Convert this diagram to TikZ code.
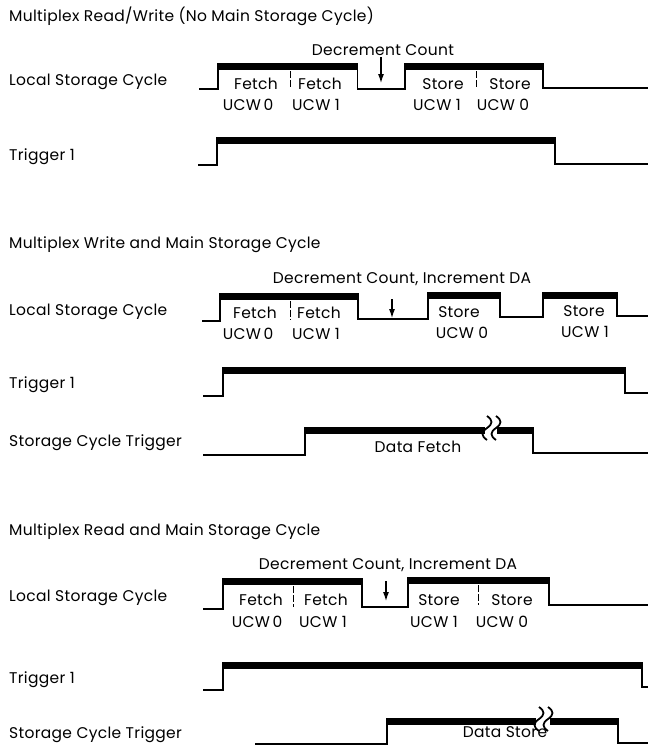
\documentclass[tikz,border=0pt]{standalone}
\usepackage{fontspec}
\setmainfont{Poppins}[LetterSpace=2]
\usetikzlibrary{arrows.meta}
\newcommand\tfont{\fontsize{15.5}{17}\selectfont}
\newcommand\hibar[3]{\fill (#1,#3) rectangle (#2,{#3+5.5});}
\newcommand\squig[3]{\draw[line width=1.8pt] (#1,#2) .. controls ({#1+6},{#2+4}) and ({#1+6},{(#2+#3)/2-4}) .. (#1,{(#2+#3)/2}) .. controls ({#1-6},{(#2+#3)/2+4}) and ({#1-6},{#3-4}) .. (#1,#3);}
\begin{document}
\begin{tikzpicture}[x=1pt,y=-1pt,
  sig/.style={line width=1.5pt, line join=miter},
  lbl/.style={anchor=west, inner sep=0pt, font=\tfont},
  txt/.style={inner sep=0pt, font=\tfont},
  divl/.style={line width=0.9pt, dash pattern=on 7pt off 2pt},
  arr/.style={line width=1.1pt, -{Latex[length=9pt,width=6pt]}}]
\useasboundingbox (0,0) rectangle (649,748);
% ---------------- Section 1
\node[lbl] (t1) at (9,16) {Multiplex Read/Write (No Main Storage Cycle)};
\node[lbl] (l1) at (9,82) {Local Storage Cycle};
\node[lbl] (g1) at (9,157) {Trigger 1};
\draw[sig] (199,89) -- (218,89) -- (218,64) -- (357.5,64) -- (357.5,89) -- (405,89) -- (405,64) -- (543,64) -- (543,88) -- (648,88);
\hibar{218}{357.5}{64}
\hibar{405}{543}{64}
\draw[divl] (290,71) -- (290,89);
\draw[divl] (476,71) -- (476,88);
\node[txt] (f1a) at (256,84) {Fetch};
\node[txt] (f1b) at (320,84) {Fetch};
\node[txt] (u1a) at (248,105) {UCW\,0};
\node[txt] (u1b) at (316,105) {UCW 1};
\node[txt] (s1a) at (443,84) {Store};
\node[txt] (s1b) at (510,84) {Store};
\node[txt] (u1c) at (437,105) {UCW 1};
\node[txt] (u1d) at (503,105) {UCW 0};
\node[txt] (d1) at (383,50) {Decrement Count};
\coordinate (a1s) at (381,57);
\coordinate (a1e) at (381,83);
\draw[arr] (a1s) -- (a1e);
\draw[sig] (198,165) -- (217,165) -- (217,138) -- (555,138) -- (555,164) -- (648,164);
\hibar{217}{555}{138}
% ---------------- Section 2
\node[lbl] (t2) at (9,245) {Multiplex Write and Main Storage Cycle};
\node[lbl] (l2) at (9,312) {Local Storage Cycle};
\node[lbl] (g2) at (9,385) {Trigger 1};
\node[lbl] (c2) at (9,443) {Storage Cycle Trigger};
\node[txt] (d2) at (402,279) {Decrement Count, Increment DA};
\draw[sig] (202,321) -- (220,321) -- (220,294) -- (358,294) -- (358,319) -- (428,319) -- (428,293) -- (500,293) -- (500,317) -- (543,317) -- (543,293) -- (617,293) -- (617,316) -- (648,316);
\hibar{220}{358}{294}
\hibar{428}{500}{293}
\hibar{543}{617}{293}
\draw[divl] (290,301) -- (290,320);
\node[txt] (f2a) at (255,313) {Fetch};
\node[txt] (f2b) at (319,313) {Fetch};
\node[txt] (u2a) at (248,334) {UCW\,0};
\node[txt] (u2b) at (316,334) {UCW 1};
\node[txt] (s2a) at (459,312) {Store};
\node[txt] (u2c) at (462,333) {UCW 0};
\node[txt] (s2b) at (584,311) {Store};
\node[txt] (u2d) at (585,332) {UCW 1};
\coordinate (a2s) at (392,299);
\coordinate (a2e) at (392,318);
\draw[arr] (a2s) -- (a2e);
\draw[sig] (203,396) -- (223,396) -- (223,368) -- (625,368) -- (625,393) -- (648,393);
\hibar{223}{625}{368}
\draw[sig] (203,455) -- (305,455) -- (305,428) -- (485,428);
\hibar{305}{485}{428}
\squig{487}{416}{440}
\squig{496}{416}{440}
\draw[sig] (497,428) -- (533,428) -- (533,453) -- (648,453);
\hibar{497}{533}{428}
\node[txt] (df) at (418,447) {Data Fetch};
% ---------------- Section 3
\node[lbl] (t3) at (9,532) {Multiplex Read and Main Storage Cycle};
\node[lbl] (l3) at (9,598) {Local Storage Cycle};
\node[lbl] (g3) at (9,680) {Trigger 1};
\node[lbl] (c3) at (9,735) {Storage Cycle Trigger};
\node[txt] (d3) at (388,565) {Decrement Count, Increment DA};
\draw[sig] (203,609) -- (223,609) -- (223,579) -- (362,579) -- (362,607) -- (408,607) -- (408,578) -- (549,578) -- (549,605) -- (648,605);
\hibar{223}{362}{579}
\hibar{408}{549}{578}
\draw[divl] (293,586) -- (293,607);
\draw[divl] (478,585) -- (478,605);
\node[txt] (f3a) at (261,600) {Fetch};
\node[txt] (f3b) at (326,600) {Fetch};
\node[txt] (u3a) at (257,622) {UCW\,0};
\node[txt] (u3b) at (323,622) {UCW 1};
\node[txt] (s3a) at (439,600) {Store};
\node[txt] (s3b) at (512,600) {Store};
\node[txt] (u3c) at (434,622) {UCW 1};
\node[txt] (u3d) at (502,622) {UCW 0};
\coordinate (a3s) at (386,581);
\coordinate (a3e) at (386,601);
\draw[arr] (a3s) -- (a3e);
\draw[sig] (203,690) -- (223,690) -- (223,663) -- (642,663) -- (642,687) -- (648,687);
\hibar{223}{642}{663}
\draw[sig] (255,744) -- (387,744) -- (387,719) -- (536,719);
\hibar{387}{536}{719}
\squig{539}{707}{731}
\squig{548}{707}{731}
\draw[sig] (550,719) -- (618,719) -- (618,743) -- (648,743);
\hibar{550}{618}{719}
\node[txt] (ds) at (505,732) {Data Store};
\end{tikzpicture}
\end{document}
